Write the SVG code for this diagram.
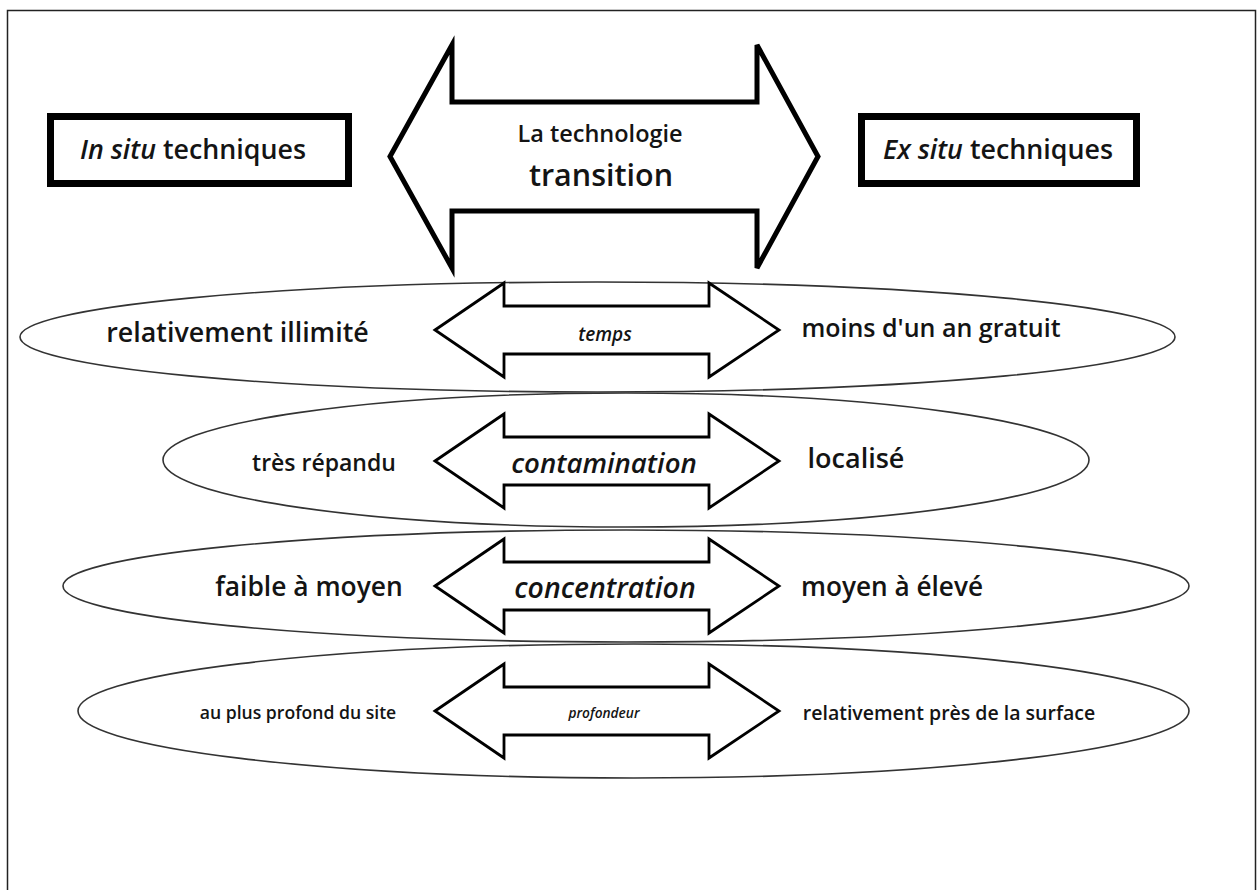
<svg xmlns="http://www.w3.org/2000/svg" width="1260" height="890" viewBox="0 0 1260 890">
<style>
text{font-family:"Open Sans","Noto Sans","DejaVu Sans",sans-serif;font-weight:600;fill:#141414;text-anchor:middle}
.it{font-style:italic}
.box{fill:#fff;stroke:#000;stroke-width:7}
.ell{fill:none;stroke:#333;stroke-width:1.6}
.big{fill:#fff;stroke:#000;stroke-width:5;stroke-linejoin:miter}
.arr{fill:#fff;stroke:#000;stroke-width:2.8;stroke-linejoin:miter}
</style>
<rect x="0" y="0" width="1260" height="890" fill="#fff"/>
<rect x="7.5" y="10.5" width="1248" height="900" fill="none" stroke="#222" stroke-width="1.5"/>

<g id="big-arrow">
<path class="big" d="M390,156.5 L452,45 L452,102 L757,102 L757,45 L818,156.5 L757,268 L757,211 L452,211 L452,268 Z"/>
<text x="600" y="142" font-size="23.5">La technologie</text>
<text x="601" y="186" font-size="30.5">transition</text>
</g>

<g id="in-situ">
<rect class="box" x="50.5" y="116.5" width="298" height="67"/>
<text x="193" y="159" font-size="26.8"><tspan class="it">In situ</tspan> techniques</text>
</g>
<g id="ex-situ">
<rect class="box" x="861.5" y="116.5" width="275" height="67"/>
<text x="998" y="159" font-size="26.8"><tspan class="it">Ex situ</tspan> techniques</text>
</g>

<g id="row-temps">
<ellipse class="ell" cx="597.5" cy="337" rx="577.5" ry="55"/>
<path class="arr" d="M435,330 L504,283 L504,306 L709,306 L709,283 L779,330 L709,377 L709,354 L504,354 L504,377 Z"/>
<text class="it" x="605" y="341" font-size="19">temps</text>
<text x="237.5" y="342" font-size="26.8">relativement illimité</text>
<text x="931" y="337" font-size="25">moins d'un an gratuit</text>
</g>

<g id="row-contamination">
<ellipse class="ell" cx="626" cy="460" rx="463" ry="67"/>
<path class="arr" d="M435,461 L504,414 L504,437 L709,437 L709,414 L779,461 L709,508 L709,485 L504,485 L504,508 Z"/>
<text class="it" x="604" y="473" font-size="27.6">contamination</text>
<text x="324" y="471" font-size="23">très répandu</text>
<text x="856" y="468" font-size="27">localisé</text>
</g>

<g id="row-concentration">
<ellipse class="ell" cx="626" cy="586" rx="563" ry="56"/>
<path class="arr" d="M435,586 L504,539 L504,562 L709,562 L709,539 L779,586 L709,633 L709,610 L504,610 L504,633 Z"/>
<text class="it" x="605" y="598" font-size="28.4">concentration</text>
<text x="309" y="596" font-size="26.4">faible à moyen</text>
<text x="892" y="596" font-size="26.2">moyen à élevé</text>
</g>

<g id="row-profondeur">
<ellipse class="ell" cx="633.5" cy="711" rx="555.5" ry="67"/>
<path class="arr" d="M435,711 L504,664 L504,687 L709,687 L709,664 L779,711 L709,758 L709,735 L504,735 L504,758 Z"/>
<text class="it" x="604" y="718" font-size="13.7">profondeur</text>
<text x="298" y="719" font-size="17.6">au plus profond du site</text>
<text x="949" y="720" font-size="19.5">relativement près de la surface</text>
</g>
</svg>
